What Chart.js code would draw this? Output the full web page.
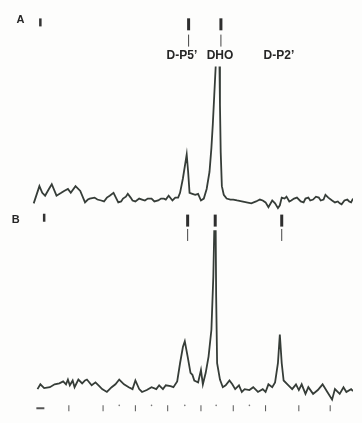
<!DOCTYPE html>
<html>
<head>
<meta charset="utf-8">
<script src="https://cdn.jsdelivr.net/npm/chart.js@4.4.0/dist/chart.umd.min.js"></script>
<style>
  body { margin: 0; background: #fdfdfc; }
  canvas { display: block; }
</style>
</head>
<body>
<canvas id="spec" width="362" height="423"></canvas>
<script>
// trace A (upper spectrum) - channel / intensity, null = pen went off scale
const channelA = [26,32,35,38,42,45,50,55,58,62,65,70,75,80,83,85,90,93,97,100,103,106,110,113,115,118,120,123,125,128,130,133,137,140,143,146,150,153,157,160,163,165,168,172,175,178,180,183,187,188.5,190,193,196,199,202,205,208,211,213,214.5,216,217.5,219.5,221.5,222,222.8,224,226,229,233,236,240,245,250,255,260,264,267,270,273,277,280,283,285,287,290,292,295,297,300,303,307,310,312,315,317,320,323,326,328,331,333,336,340,343,346,348,350,353,356,358,360,362];
const intensityA = [-3,15,8,5,12,17,5,8,10,12,8,15,10,-2,1,2,3,1,0,-1,3,5,8,2,-2,-1,2,4,7,3,0,-1,2,1,0,2,2,-1,0,2,2,1,5,0,3,3,8,23,48,30,8,7,6,7,0,2,12,30,55,80,110,140,null,140,100,50,15,6,2,1,1,0,-1,-2,-3,-1,1,0,-2,-7,0,-3,-8,-5,3,2,4,-1,0,2,3,-1,-2,2,3,0,1,4,3,0,1,6,3,0,-2,-1,-3,-4,0,1,-1,-2,2];

// trace B (lower spectrum)
const channelB = [30,33,37,43,48,53,57,60,62,64,67,69,73,77,80,82,87,91,95,98,103,108,112,116,121,126,130,133,137,140,145,150,155,158,162,165,170,173,177,180,183,185,188,191,193,195,197,199,202,204,207,210,213,215,216,216.7,217.5,218,219,222,225,228,232,235,238,242,245,248,253,257,262,267,270,273,277,280,283,285,287,289,293,298,302,305,308,312,315,320,325,330,335,340,343,348,352,355,360,362];
const intensityB = [-2,3,-1,0,3,4,6,3,8,2,7,0,8,4,7,8,2,5,1,-2,-5,0,3,8,3,0,-2,7,-2,-5,-3,0,-2,2,-2,2,1,0,6,25,42,48,32,15,13,7,6,5,18,3,15,32,60,115,164,null,164,95,25,8,0,2,7,3,-2,2,-5,-2,-3,0,-5,-2,-5,3,0,5,25,55,25,7,3,-2,3,-3,3,-7,0,-7,-3,3,-5,-13,-2,-7,0,-5,-2,-4];

// peak labels and marker channels
const peakLabels = ["D-P5’", "DHO", "D-P2’"];
const peakLabelChannel = [182, 222, 284];
const markChannelA = [189, 223];
const markChannelB = [188, 217, 287];
const stemChannelB = [188, 287];
const startMarkChannel = [33, 37];

// scale ticks along the bottom
const majorTicks = [33, 63, 99, 133, 167, 202, 236, 270, 305, 338];
const minorTicks = [116, 150, 185, 218, 253];

const offsetA = 195;
const offsetB = 0;
const ink = '#363d38';

const pts = (xs, ys, off) => xs.map((x, i) => ({ x: x, y: ys[i] === null ? null : ys[i] + off }));
const level = (xs, y) => xs.map(x => ({ x: x, y: y }));

const textPlugin = {
  id: 'spectrumText',
  afterDatasetsDraw(chart) {
    const { ctx, scales: { x, y } } = chart;
    ctx.save();
    ctx.fillStyle = '#262626';
    ctx.textAlign = 'center';
    ctx.textBaseline = 'middle';
    ctx.font = 'bold 12px "Liberation Sans", Arial, sans-serif';
    peakLabels.forEach((t, i) => {
      ctx.fillText(t, x.getPixelForValue(peakLabelChannel[i]), y.getPixelForValue(offsetA + 151));
    });
    ctx.font = 'bold 11px "Liberation Sans", Arial, sans-serif';
    ctx.fillText('A', x.getPixelForValue(12), y.getPixelForValue(offsetA + 189));
    ctx.fillText('B', x.getPixelForValue(7), y.getPixelForValue(offsetB + 175));
    ctx.restore();
  }
};

new Chart(document.getElementById('spec'), {
  type: 'scatter',
  data: {
    datasets: [
      { data: pts(channelA, intensityA, offsetA), showLine: true, borderColor: ink, borderWidth: 1.8, pointRadius: 0, spanGaps: false },
      { data: pts(channelB, intensityB, offsetB), showLine: true, borderColor: ink, borderWidth: 1.8, pointRadius: 0, spanGaps: false },
      // bold upper part of the peak markers
      { data: level(markChannelA, offsetA + 184).concat(level(markChannelB, offsetB + 174)),
        pointStyle: 'line', rotation: 90, pointRadius: 6, borderWidth: 3, borderColor: '#2e2e2e' },
      // thin stems under them
      { data: level(markChannelA, offsetA + 167).concat(level(stemChannelB, offsetB + 159)),
        pointStyle: 'line', rotation: 90, pointRadius: 6, borderWidth: 1, borderColor: '#444' },
      // small marks at the left start
      { data: [{ x: startMarkChannel[0], y: offsetA + 186 }, { x: startMarkChannel[1], y: offsetB + 177 }],
        pointStyle: 'line', rotation: 90, pointRadius: 4, borderWidth: 2.5, borderColor: '#333' },
      // bottom scale
      { data: level(majorTicks, -22), pointStyle: 'line',
        rotation: c => c.dataIndex === 0 ? 0 : 90,
        pointRadius: c => c.dataIndex === 0 ? 4 : 3,
        borderWidth: c => c.dataIndex === 0 ? 2 : 1, borderColor: '#555' },
      { data: level(minorTicks, -19), pointStyle: 'circle', pointRadius: 0.8, borderWidth: 0, backgroundColor: '#777' }
    ]
  },
  options: {
    responsive: false,
    animation: false,
    layout: { padding: 0 },
    plugins: { legend: { display: false }, tooltip: { enabled: false } },
    scales: {
      x: { type: 'linear', min: 0, max: 362, display: false },
      y: { type: 'linear', min: -28, max: 395, display: false }
    }
  },
  plugins: [textPlugin]
});
</script>
</body>
</html>
